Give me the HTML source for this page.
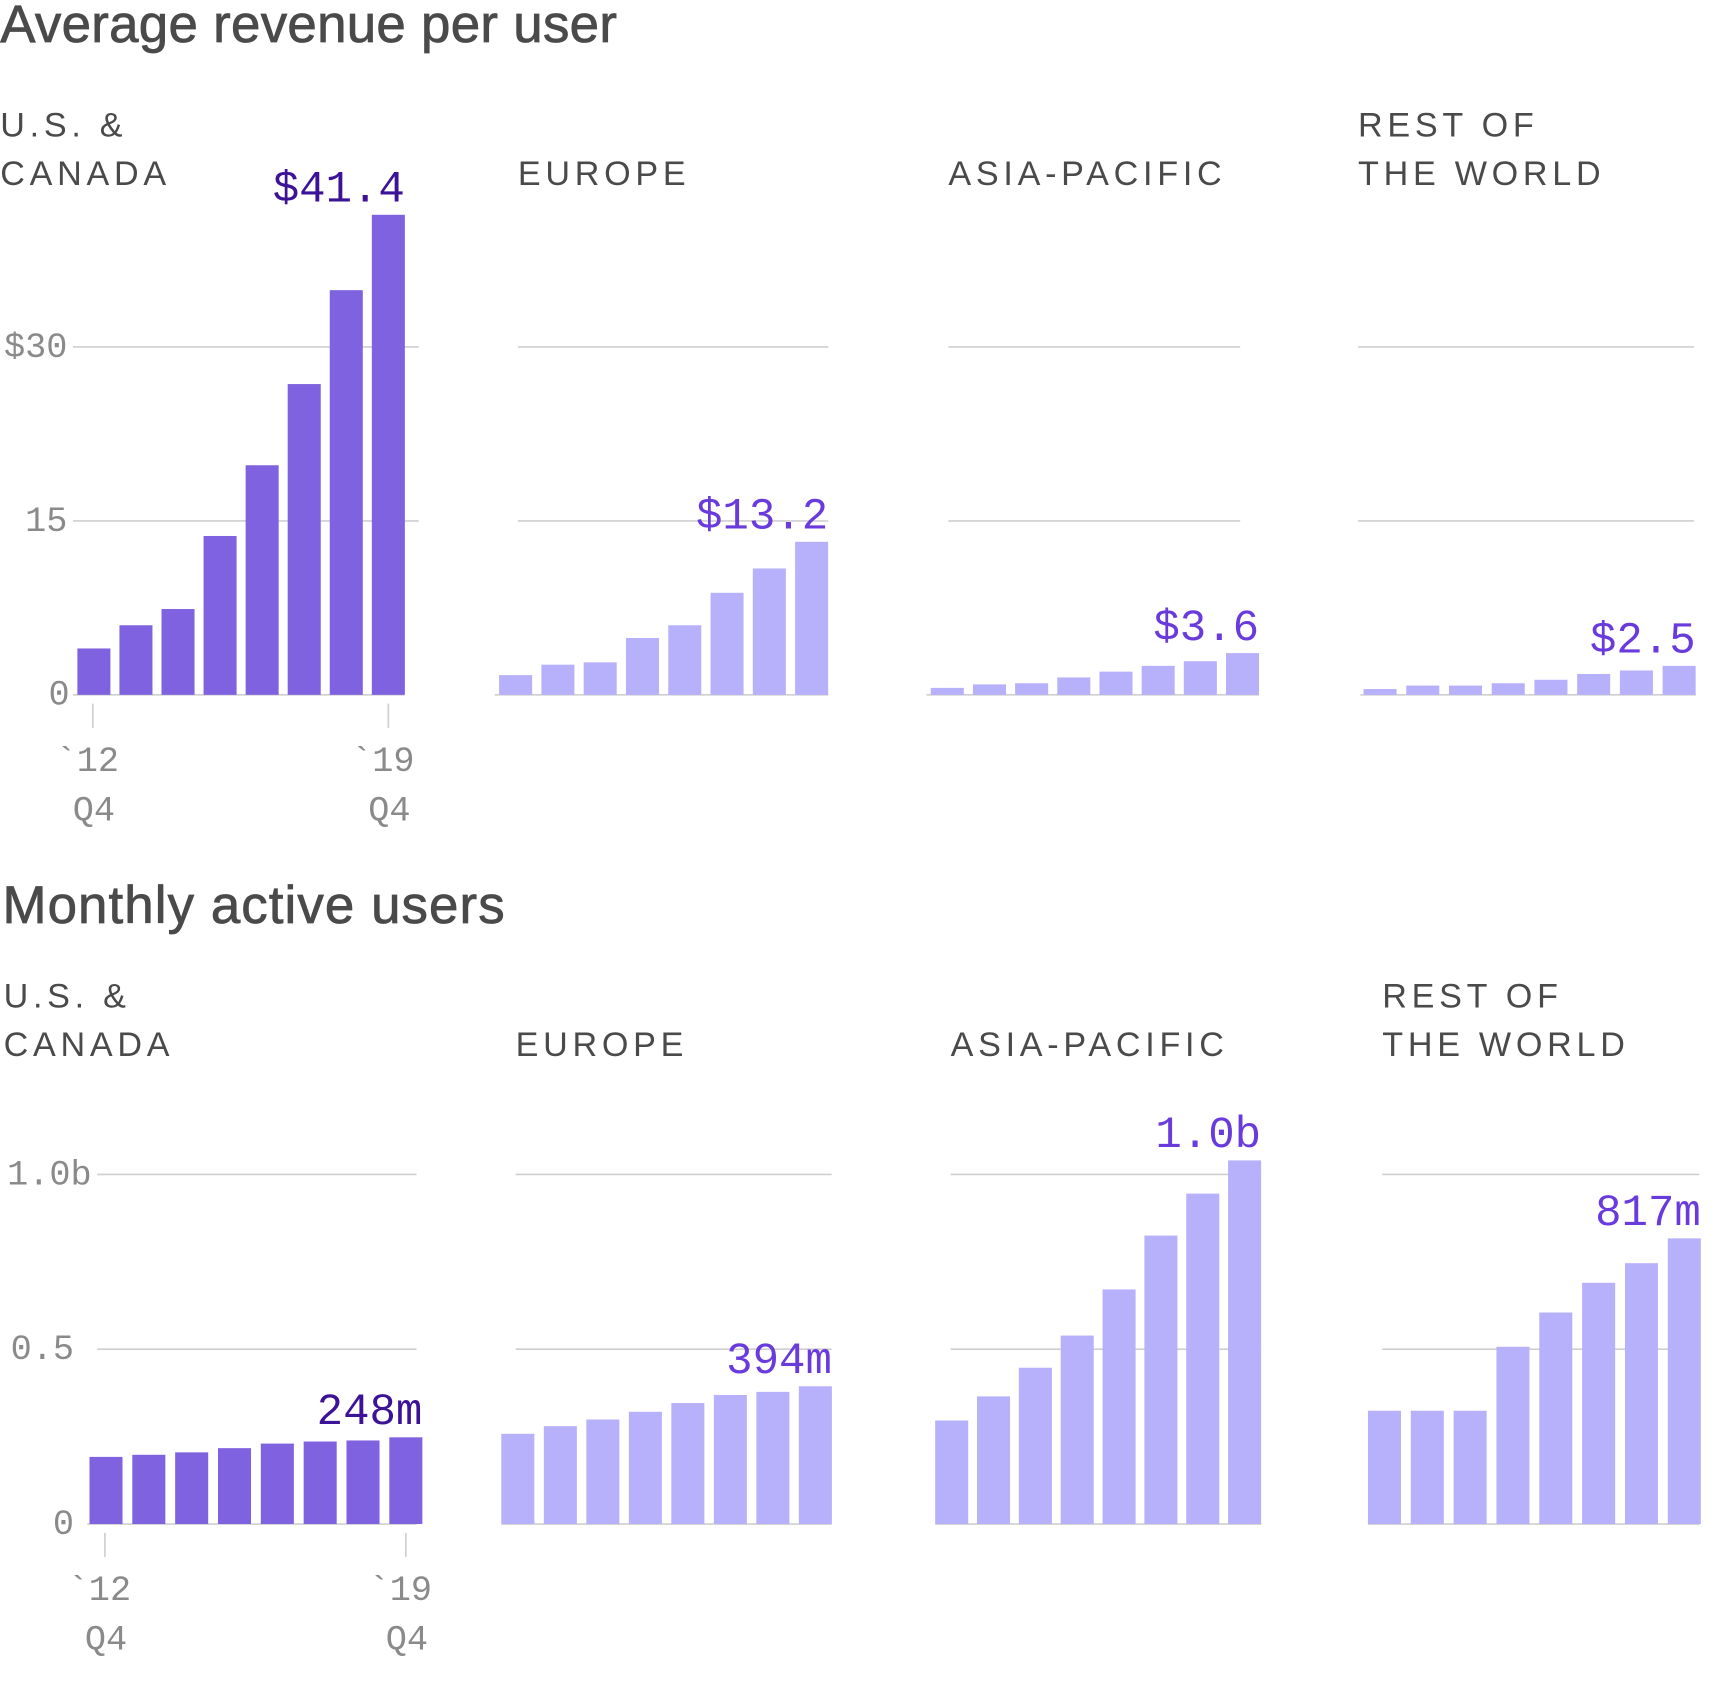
<!DOCTYPE html>
<html><head><meta charset="utf-8"><style>
html,body{margin:0;padding:0;background:#fff;}
svg{display:block;}
.t{font-family:"Liberation Sans",sans-serif;fill:#4a4a4a;font-size:48px;stroke:#4a4a4a;stroke-width:0.7px;}
.r{font-family:"Liberation Sans",sans-serif;fill:#4a4a4a;font-size:31px;letter-spacing:4.3px;}
.ax{font-family:"Liberation Mono",monospace;fill:#8a8a8a;font-size:32px;}
.v{font-family:"Liberation Mono",monospace;font-size:40px;}
</style></head><body>
<svg id="chart" width="1725" height="1698" viewBox="0 0 1566 1542" xmlns="http://www.w3.org/2000/svg">
<text class="t" x="0" y="38" textLength="560">Average revenue per user</text>
<text class="t" x="2" y="838" textLength="456">Monthly active users</text>
</svg>
<script>
const regions = ["U.S. &|CANADA", "EUROPE", "ASIA-PACIFIC", "REST OF|THE WORLD"];
const arpuUS = [4.0, 6.0, 7.4, 13.7, 19.8, 26.8, 34.9, 41.4];
const arpuEU = [1.7, 2.6, 2.8, 4.9, 6.0, 8.8, 10.9, 13.2];
const arpuAP = [0.6, 0.9, 1.0, 1.5, 2.0, 2.5, 2.9, 3.6];
const arpuRW = [0.5, 0.8, 0.8, 1.0, 1.3, 1.8, 2.1, 2.5];
const arpuLabels = ["$41.4", "$13.2", "$3.6", "$2.5"];
const arpuTicks = [0, 15, 30];
const arpuTickLabels = ["0", "15", "$30"];
const mauUS = [0.192, 0.198, 0.205, 0.217, 0.230, 0.236, 0.239, 0.248];
const mauEU = [0.258, 0.280, 0.299, 0.321, 0.346, 0.369, 0.378, 0.394];
const mauAP = [0.296, 0.365, 0.447, 0.539, 0.671, 0.825, 0.945, 1.04];
const mauRW = [0.324, 0.324, 0.324, 0.507, 0.605, 0.690, 0.746, 0.817];
const mauLabels = ["248m", "394m", "1.0b", "817m"];
const mauTicks = [0, 0.5, 1.0];
const mauTickLabels = ["0", "0.5", "1.0b"];
const xLabels = ["`12", "`19"];

const svg = document.getElementById('chart');
const NS = "http://www.w3.org/2000/svg";
function mk(tag, attrs, text){
  const e = document.createElementNS(NS, tag);
  for (const k in attrs) e.setAttribute(k, attrs[k]);
  if (text !== undefined) e.textContent = text;
  svg.appendChild(e);
  return e;
}

function panel(cfg){
  const {data, x0, step, bw, base, pxPerUnit, gridX0, gridX1, baseX0, baseX1, ticks, tickLabels, labelEnds, showAxis, label, labelCol, color, regionName, regionX, regionY, pfx, xlabY} = cfg;
  const y = v => base - v * pxPerUnit;
  const xs = i => x0 + i * step;
  ticks.forEach((t, i) => {
    if (t === 0) return;
    const l = mk('line', {x1: gridX0, x2: gridX1, y1: y(t), y2: y(t), stroke: '#cfcfcf', 'stroke-width': 1.5});
    
    
  });
  const bl = mk('line', {x1: baseX0, x2: baseX1, y1: base, y2: base, stroke: '#cfcfcf', 'stroke-width': 1.5});
  
  
  data.forEach((v, i) => {
    const r = mk('rect', {x: xs(i), y: y(v), width: bw, height: v * pxPerUnit, fill: color});
    
    
  });
  const last = data.length - 1;
  const vt = mk('text', {class: 'v', x: xs(last) + bw, y: y(data[last]) - 12, 'text-anchor': 'end', fill: labelCol}, label);
  
  
  const lines = regionName.split('|');
  lines.forEach((s, i) => {
    const rt = mk('text', {class: 'r', x: regionX, y: regionY + (lines.length === 1 ? 44 : i * 44)}, s);
    
    
  });
  if (showAxis){
    ticks.forEach((t, i) => {
      const at = mk('text', {class: 'ax', x: labelEnds[i], y: y(t) + 9, 'text-anchor': 'end'}, tickLabels[i]);
      
      
    });
    [0, last].forEach((bi, j) => {
      const cx = xs(bi) + bw / 2 + (j === 0 ? -1 : 0);
      const tl = mk('line', {x1: cx, x2: cx, y1: base + 8, y2: base + 30, stroke: '#cfcfcf', 'stroke-width': 1.5});
      
      
      const xt = mk('text', {class: 'ax', x: cx - 5, y: xlabY, 'text-anchor': 'middle'}, xLabels[j]);
      
      
      const qt = mk('text', {class: 'ax', x: cx + 1, y: xlabY + 45, 'text-anchor': 'middle'}, 'Q4');
      
      
    });
  }
}

const arpuData = [arpuUS, arpuEU, arpuAP, arpuRW];
const mauData = [mauUS, mauEU, mauAP, mauRW];
const topCfg = [
  {x0: 70, step: 38.2, gridX0: 66, gridX1: 380, baseX0: 66, baseX1: 367, regionX: 0},
  {x0: 453, step: 38.4, gridX0: 470, gridX1: 752, baseX0: 449, baseX1: 752, regionX: 470},
  {x0: 845, step: 38.3, gridX0: 861, gridX1: 1126, baseX0: 841, baseX1: 1143, regionX: 861},
  {x0: 1238, step: 38.8, gridX0: 1233, gridX1: 1538, baseX0: 1235, baseX1: 1540, regionX: 1233}
];
const botCfg = [
  {x0: 81, step: 38.9, gridX0: 88, gridX1: 378, baseX0: 79, baseX1: 378, regionX: 3},
  {x0: 455, step: 38.6, gridX0: 468, gridX1: 755, baseX0: 455, baseX1: 755, regionX: 468},
  {x0: 849, step: 38.0, gridX0: 863, gridX1: 1145, baseX0: 849, baseX1: 1145, regionX: 863},
  {x0: 1242, step: 38.9, gridX0: 1255, gridX1: 1543, baseX0: 1242, baseX1: 1543, regionX: 1255}
];
topCfg.forEach((c, i) => panel(Object.assign({}, c, {
  data: arpuData[i], bw: 30, base: 631, pxPerUnit: 10.53, ticks: arpuTicks, tickLabels: arpuTickLabels, labelEnds: [63, 61, 61],
  showAxis: i === 0, label: arpuLabels[i], labelCol: i === 0 ? '#3c1396' : '#6a3bdc',
  color: i === 0 ? '#7f62e0' : '#b7b0fb', regionName: regions[i], regionY: 124, pfx: 'arpu-' + ['us','eu','ap','rw'][i], xlabY: 700
})));
botCfg.forEach((c, i) => panel(Object.assign({}, c, {
  data: mauData[i], bw: 30, base: 1384, pxPerUnit: 317.5, ticks: mauTicks, tickLabels: mauTickLabels, labelEnds: [67, 67, 83],
  showAxis: i === 0, label: mauLabels[i], labelCol: i === 0 ? '#3c1396' : '#6a3bdc',
  color: i === 0 ? '#7f62e0' : '#b7b0fb', regionName: regions[i], regionY: 915, pfx: 'mau-' + ['us','eu','ap','rw'][i], xlabY: 1453
})));
</script>
</body></html>
